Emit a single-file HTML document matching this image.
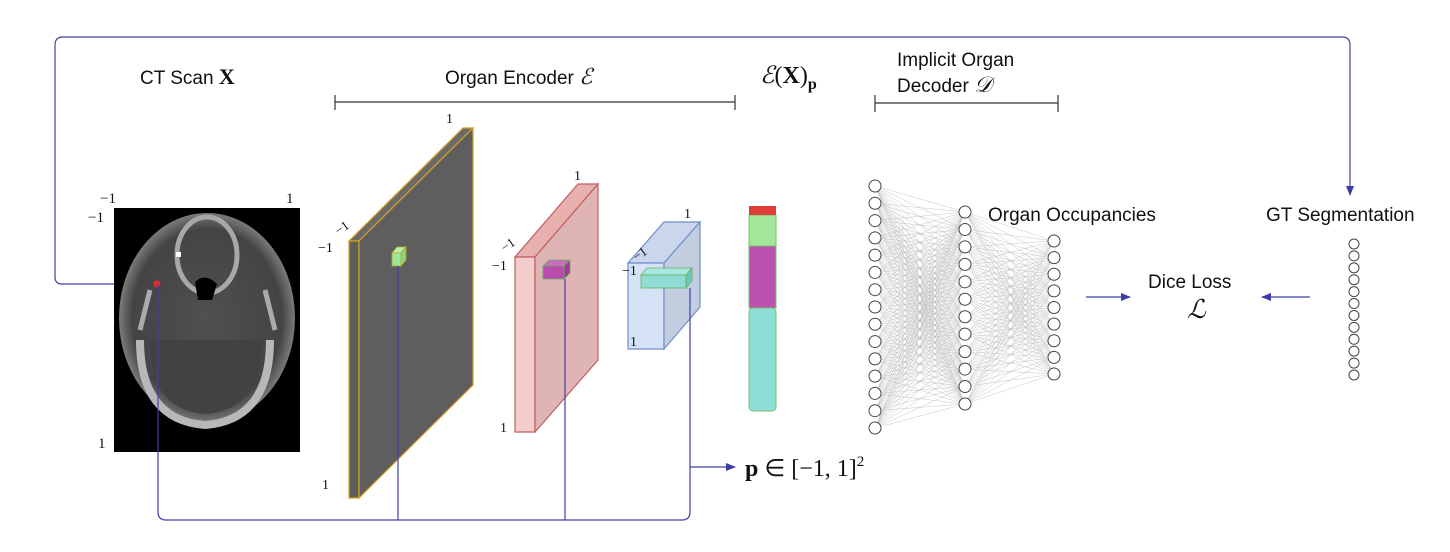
<!DOCTYPE html>
<html><head><meta charset="utf-8"><style>
html,body{margin:0;padding:0;background:#fff;}
svg{display:block;}
.t{font-family:"Liberation Sans",sans-serif;font-size:19px;fill:#111;}
.m{font-family:"Liberation Serif",serif;fill:#111;}
</style></head><body>
<svg id="s" width="1450" height="552" viewBox="0 0 1450 552" xmlns="http://www.w3.org/2000/svg">
<defs>
<marker id="ah" markerWidth="10" markerHeight="8" refX="9" refY="4" orient="auto" markerUnits="userSpaceOnUse"><path d="M0,0 L10,4 L0,8 Z" fill="#3d3da8"/></marker>
<radialGradient id="hd" cx="50%" cy="50%" r="50%"><stop offset="0" stop-color="#505050"/><stop offset="0.85" stop-color="#444"/><stop offset="1" stop-color="#7a7a7a"/></radialGradient>
</defs>
<g id="nn" stroke="#9a9a9a" stroke-width="0.4" opacity="0.7"></g>

<path d="M157,284 H62 Q55,284 55,277 V45 Q55,37 63,37 H1342 Q1350,37 1350,45 V195" fill="none" stroke="#4040a8" stroke-width="1.2" marker-end="url(#ah)"/>

<text x="140" y="84" class="t">CT Scan <tspan class="m" font-weight="bold" font-size="22">X</tspan></text>
<text x="445" y="84" class="t">Organ Encoder <tspan class="m" font-style="italic" font-size="22">ℰ</tspan></text>
<path d="M335,95 V110 M335,102 H735 M735,95 V110" stroke="#333" stroke-width="1.2" fill="none"/>
<text x="760" y="83" class="m" font-size="24"><tspan font-style="italic">ℰ</tspan>(<tspan font-weight="bold">X</tspan>)<tspan font-weight="bold" font-size="16" dy="6">p</tspan></text>
<text x="897" y="66" class="t">Implicit Organ</text>
<text x="897" y="92" class="t">Decoder <tspan class="m" font-style="italic" font-size="22">𝒟</tspan></text>
<path d="M875,95 V112 M875,103 H1058 M1058,95 V112" stroke="#333" stroke-width="1.2" fill="none"/>
<text x="988" y="221" class="t" font-size="18">Organ Occupancies</text>
<text x="1266" y="221" class="t" font-size="18">GT Segmentation</text>
<text x="1148" y="288" class="t">Dice Loss</text>
<text x="1187" y="318" class="m" font-style="italic" font-size="26">ℒ</text>
<line x1="1086" y1="297" x2="1130" y2="297" stroke="#4040a8" stroke-width="1.2" marker-end="url(#ah)"/>
<line x1="1310" y1="297" x2="1262" y2="297" stroke="#4040a8" stroke-width="1.2" marker-end="url(#ah)"/>

<!-- CT image -->
<rect x="114" y="208" width="186" height="244" fill="#000"/>
<ellipse cx="207" cy="318" rx="88" ry="105" fill="url(#hd)"/>
<path d="M140,340 Q140,420 205,425 Q270,420 270,340" fill="none" stroke="#b8b8b8" stroke-width="8"/>
<path d="M150,340 Q150,410 205,414 Q262,410 262,340 Z" fill="#424242"/>
<ellipse cx="207" cy="255" rx="30" ry="38" fill="none" stroke="#a8a8a8" stroke-width="5"/>
<path d="M195,282 Q205,272 217,284 L212,300 L198,300 Z" fill="#000"/>
<path d="M150,290 L140,330 M265,290 L275,330" stroke="#aaa" stroke-width="5"/>
<circle cx="157" cy="284" r="3.5" fill="#e03030"/>
<rect x="176" y="252" width="5" height="5" fill="#fff"/>
<text x="100" y="203" class="m" font-size="15">−1</text>
<text x="286" y="203" class="m" font-size="15">1</text>
<text x="88" y="222" class="m" font-size="15">−1</text>
<text x="98" y="448" class="m" font-size="15">1</text>

<!-- gray slab -->
<polygon points="349,241 463,128 473,128 359,241" fill="#6a6a6a" stroke="#d9a020" stroke-width="1.2"/>
<polygon points="349,241 359,241 359,498 349,498" fill="#5e5e5e" stroke="#d9a020" stroke-width="1.2"/>
<polygon points="359,241 473,128 473,385 359,498" fill="#5e5e5e" stroke="#d9a020" stroke-width="1.2"/>
<polygon points="392,253 397,247 406,247 401,253" fill="#b6f0b0" stroke="#c8a020" stroke-width="0.8"/>
<polygon points="401,253 406,247 406,260 401,266" fill="#86d680" stroke="#c8a020" stroke-width="0.8"/>
<rect x="392" y="253" width="9" height="13" fill="#9ee69a" stroke="#c8a020" stroke-width="0.8"/>
<text x="446" y="123" class="m" font-size="14">1</text>
<text x="336" y="233" class="m" font-size="13" transform="rotate(-35 341 230)">−1</text>
<text x="318" y="252" class="m" font-size="14">−1</text>
<text x="322" y="489" class="m" font-size="14">1</text>

<!-- pink slab -->
<polygon points="515,257 578,184 598,184 535,257" fill="#e9b0b0" stroke="#c06060" stroke-width="1.2"/>
<polygon points="515,257 535,257 535,432 515,432" fill="#f4cccc" stroke="#c06060" stroke-width="1.2"/>
<polygon points="535,257 598,184 598,360 535,432" fill="#dfb4b4" stroke="#c06060" stroke-width="1.2"/>
<polygon points="543,266 549,260 570,260 564,266" fill="#cc6ac0" stroke="#6ab060" stroke-width="0.8"/>
<polygon points="564,266 570,260 570,273 564,279" fill="#9e3a94" stroke="#6ab060" stroke-width="0.8"/>
<rect x="543" y="266" width="21" height="13" fill="#b94aae" stroke="#6ab060" stroke-width="0.8"/>
<text x="574" y="180" class="m" font-size="14">1</text>
<text x="502" y="250" class="m" font-size="13" transform="rotate(-35 507 247)">−1</text>
<text x="492" y="270" class="m" font-size="14">−1</text>
<text x="500" y="432" class="m" font-size="14">1</text>

<!-- blue slab -->
<polygon points="628,263 664,222 700,222 664,263" fill="#c9d6ec" stroke="#7090c8" stroke-width="1.2"/>
<polygon points="628,263 664,263 664,349 628,349" fill="#d6e2f5" stroke="#7090c8" stroke-width="1.2"/>
<polygon points="664,263 700,222 700,307 664,349" fill="#c3cde0" stroke="#7090c8" stroke-width="1.2"/>
<polygon points="641,275 647,268 692,268 686,275" fill="#a8e8e0" stroke="#6ab060" stroke-width="0.8"/>
<polygon points="686,275 692,268 692,281 686,288" fill="#6cc8bc" stroke="#6ab060" stroke-width="0.8"/>
<rect x="641" y="275" width="45" height="13" fill="#8edcd2" stroke="#6ab060" stroke-width="0.8"/>
<text x="684" y="218" class="m" font-size="14">1</text>
<text x="634" y="259" class="m" font-size="13" transform="rotate(-35 639 256)">−1</text>
<text x="622" y="275" class="m" font-size="14">−1</text>
<text x="630" y="346" class="m" font-size="14">1</text>

<!-- bar -->
<rect x="749" y="246" width="27" height="62" fill="#bb50b0" stroke="#7ac070" stroke-width="1"/>
<rect x="749" y="308" width="27" height="103" rx="4" fill="#8fded6" stroke="#7ac070" stroke-width="1"/>
<rect x="749" y="215" width="27" height="31" fill="#a2e69a" stroke="#7ac070" stroke-width="1"/>
<rect x="749" y="206" width="27" height="9" fill="#e03c3a"/>

<path d="M158,284 V512 Q158,520 166,520 H682 Q690,520 690,512 V288" fill="none" stroke="#4040a8" stroke-width="1.2"/>
<path d="M398,266 V520" fill="none" stroke="#4040a8" stroke-width="1.2"/>
<path d="M565,279 V520" fill="none" stroke="#4040a8" stroke-width="1.2"/>
<line x1="690" y1="467" x2="735" y2="467" stroke="#4040a8" stroke-width="1.2" marker-end="url(#ah)"/>
<text x="745" y="476" class="m" font-size="24"><tspan font-weight="bold">p</tspan> ∈ [−1, 1]<tspan font-size="15" dy="-10">2</tspan></text>

<g id="cir" fill="#fff" stroke="#444" stroke-width="1"></g>
</svg>
<script>
var ns="http://www.w3.org/2000/svg";
function layer(x,y0,y1,n){var a=[];for(var i=0;i<n;i++)a.push([x,y0+(y1-y0)*i/(n-1)]);return a;}
var L1=layer(875,186,428,15),L2=layer(965,212,404,12),L3=layer(1054,241,374,9),G=layer(1354,244,375,12);
var nn=document.getElementById('nn'),c=document.getElementById('cir');
function conn(A,B){A.forEach(function(p){B.forEach(function(q){var l=document.createElementNS(ns,'line');l.setAttribute('x1',p[0]);l.setAttribute('y1',p[1]);l.setAttribute('x2',q[0]);l.setAttribute('y2',q[1]);nn.appendChild(l);});});}
conn(L1,L2);conn(L2,L3);
function circ(A,r){A.forEach(function(p){var e=document.createElementNS(ns,'circle');e.setAttribute('cx',p[0]);e.setAttribute('cy',p[1]);e.setAttribute('r',r);c.appendChild(e);});}
circ(L1,6);circ(L2,6);circ(L3,6);circ(G,5);
</script>
</body></html>
